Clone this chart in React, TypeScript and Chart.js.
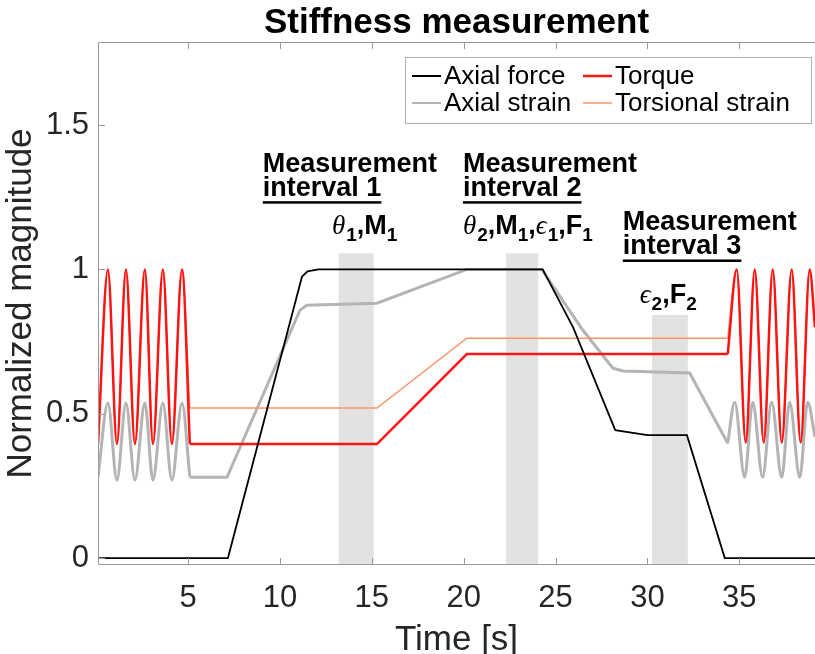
import React, { useEffect, useRef } from 'react';
import { Chart, registerables } from 'chart.js';

Chart.register(...registerables);

// ---------------- data (time in s, normalized magnitude) ----------------
const xTicks = [5, 10, 15, 20, 25, 30, 35];
const yTicks = [0, 0.5, 1, 1.5];

// Axial force (black)
const forceT = [0.1, 7.17, 11.2, 11.5, 12.1, 24.3, 25.95, 28.25, 30.0, 32.15, 34.21, 39.12];
const forceV = [0, 0, 0.975, 0.993, 1.0, 1.0, 0.8, 0.443, 0.426, 0.426, 0, 0];

// Torque (red)
const torqueOscLeftT = [0.1, 0.64, 1.13, 1.62, 2.11, 2.65, 3.09, 3.63, 4.12, 4.67, 5.1];
const torqueOscLeftV = [0.395, 1.0, 0.395, 1.0, 0.395, 1.0, 0.395, 1.0, 0.395, 1.0, 0.395];
const torqueMidT = [5.1, 15.28, 20.17, 34.37];
const torqueMidV = [0.395, 0.395, 0.707, 0.707];
const torqueOscRightT = [34.37, 34.86, 35.35, 35.84, 36.33, 36.82, 37.31, 37.85, 38.34, 38.83, 39.12];
const torqueOscRightV = [0.707, 1.0, 0.4, 1.0, 0.4, 1.0, 0.4, 1.0, 0.4, 1.0, 0.8];

// Torsional strain (orange)
const torsOscLeftT = [0.1, 0.64, 1.13, 1.62, 2.11, 2.65, 3.09, 3.63, 4.12, 4.67, 5.1];
const torsOscLeftV = [0.395, 1.0, 0.395, 1.0, 0.395, 1.0, 0.395, 1.0, 0.395, 1.0, 0.52];
const torsMidT = [5.1, 15.28, 20.17, 34.37];
const torsMidV = [0.52, 0.52, 0.762, 0.762];
const torsOscRightT = [34.37, 34.86, 35.35, 35.84, 36.33, 36.82, 37.31, 37.85, 38.34, 38.83, 39.12];
const torsOscRightV = [0.762, 1.0, 0.4, 1.0, 0.4, 1.0, 0.4, 1.0, 0.4, 1.0, 0.8];

// Axial strain (gray)
const strainOscLeftT = [0.1, 0.64, 1.13, 1.62, 2.11, 2.65, 3.09, 3.63, 4.12, 4.67, 5.1];
const strainOscLeftV = [0.28, 0.537, 0.27, 0.537, 0.27, 0.537, 0.27, 0.537, 0.27, 0.537, 0.28];
const strainMidT = [5.1, 7.12, 11.09, 11.47, 15.28, 20.17, 24.25, 26.48, 28.12, 28.67, 32.3, 34.37];
const strainMidV = [0.28, 0.28, 0.859, 0.876, 0.883, 1.0, 1.0, 0.79, 0.658, 0.648, 0.641, 0.398];
const strainOscRightT = [34.37, 34.75, 35.29, 35.73, 36.27, 36.76, 37.31, 37.74, 38.29, 38.72, 39.12];
const strainOscRightV = [0.398, 0.54, 0.28, 0.54, 0.28, 0.54, 0.28, 0.54, 0.28, 0.54, 0.42];

// Measurement intervals (shaded)
const bandStart = [13.2, 22.3, 30.25];
const bandEnd = [15.1, 24.05, 32.2];
const bandTop = [1.056, 1.056, 0.842];

// Annotations
const annHeadT = [9.07, 19.96, 28.66];
const annHeadV = [1.337, 1.337, 1.135];
const annHead = ['Measurement', 'Measurement', 'Measurement'];
const annSub = ['interval 1', 'interval 2', 'interval 3'];
const symT = [12.83, 19.96, 29.58];
const symV = [1.122, 1.122, 0.883];
const symSets: string[][][] = [
  [['θ', '1'], ['M', '1']],
  [['θ', '2'], ['M', '1'], ['ϵ', '1'], ['F', '1']],
  [['ϵ', '2'], ['F', '2']],
];

const legendLabels = ['Axial force', 'Torque', 'Axial strain', 'Torsional strain'];
const titleText = 'Stiffness measurement';

// ---------------- styles ----------------
const SANS = "'Liberation Sans', Arial, Helvetica, sans-serif";
const SERIF = "'Liberation Serif', 'DejaVu Serif', serif";
const C_FORCE = '#000000';
const C_TORQUE = '#ff1414';
const C_TORS = '#ff9466';
const C_STRAIN = '#b4b4b4';
const AXIS = '#9a9a9a';
const TEXT = '#262626';

const pts = (t: number[], v: number[]) => t.map((x, i) => ({ x, y: v[i] }));

function drawSymbols(ctx: CanvasRenderingContext2D, x: number, y: number, set: string[][]) {
  let cx = x;
  ctx.textAlign = 'left';
  ctx.textBaseline = 'alphabetic';
  set.forEach(([main, sub], i) => {
    const greek = /[θϵ]/.test(main);
    ctx.font = greek ? `italic 27px ${SERIF}` : `bold 27px ${SANS}`;
    ctx.fillText(main, cx, y);
    cx += ctx.measureText(main).width + (greek ? 1 : 0);
    ctx.font = `bold 19px ${SANS}`;
    ctx.fillText(sub, cx, y + 7);
    cx += ctx.measureText(sub).width;
    if (i < set.length - 1) {
      ctx.font = `bold 27px ${SANS}`;
      ctx.fillText(',', cx, y);
      cx += ctx.measureText(',').width;
    }
  });
}

const overlay = {
  id: 'overlay',
  beforeDatasetsDraw(chart: any) {
    const { ctx, chartArea, scales } = chart;
    const xs = scales.x;
    const ys = scales.y;
    ctx.save();
    ctx.beginPath();
    ctx.rect(chartArea.left, chartArea.top, chartArea.width, chartArea.height);
    ctx.clip();
    ctx.fillStyle = 'rgba(190,190,190,0.45)';
    for (let i = 0; i < bandStart.length; i++) {
      const x0 = xs.getPixelForValue(bandStart[i]);
      const x1 = xs.getPixelForValue(bandEnd[i]);
      const yt = ys.getPixelForValue(bandTop[i]);
      ctx.fillRect(x0, yt, x1 - x0, chartArea.bottom - yt);
    }
    ctx.restore();
  },
  afterDatasetsDraw(chart: any) {
    const { ctx, chartArea, scales } = chart;
    const xs = scales.x;
    const ys = scales.y;
    const { left, right, top, bottom } = chartArea;
    ctx.save();

    // axes box (left, bottom, top) with inward ticks
    ctx.strokeStyle = AXIS;
    ctx.lineWidth = 1;
    ctx.beginPath();
    ctx.moveTo(left + 0.5, top + 0.5);
    ctx.lineTo(left + 0.5, bottom - 0.5);
    ctx.lineTo(right, bottom - 0.5);
    ctx.moveTo(left + 0.5, top + 0.5);
    ctx.lineTo(right, top + 0.5);
    xTicks.forEach((t) => {
      const px = Math.round(xs.getPixelForValue(t)) + 0.5;
      ctx.moveTo(px, bottom);
      ctx.lineTo(px, bottom - 7);
      ctx.moveTo(px, top);
      ctx.lineTo(px, top + 7);
    });
    yTicks.forEach((v) => {
      const py = Math.round(ys.getPixelForValue(v)) + 0.5;
      ctx.moveTo(left, py);
      ctx.lineTo(left + 7, py);
    });
    ctx.stroke();

    // title
    ctx.fillStyle = '#000';
    ctx.font = `bold 35px ${SANS}`;
    ctx.textAlign = 'center';
    ctx.textBaseline = 'alphabetic';
    ctx.fillText(titleText, (left + right) / 2, 33);

    // annotations
    for (let i = 0; i < annHead.length; i++) {
      const ax = xs.getPixelForValue(annHeadT[i]);
      const ay = ys.getPixelForValue(annHeadV[i]);
      ctx.fillStyle = '#000';
      ctx.textAlign = 'left';
      ctx.font = `bold 27px ${SANS}`;
      ctx.fillText(annHead[i], ax, ay);
      ctx.fillText(annSub[i], ax, ay + 24);
      const w = ctx.measureText(annSub[i]).width;
      ctx.fillRect(ax, ay + 29, w, 2.5);
      drawSymbols(ctx, xs.getPixelForValue(symT[i]), ys.getPixelForValue(symV[i]), symSets[i]);
    }

    // legend
    const bx0 = right - 410;
    const by0 = top + 15;
    const bw = 406;
    const bh = 66;
    ctx.fillStyle = '#ffffff';
    ctx.fillRect(bx0, by0, bw, bh);
    ctx.strokeStyle = '#b0b0b0';
    ctx.lineWidth = 1;
    ctx.strokeRect(bx0 + 0.5, by0 + 0.5, bw, bh);
    const cols = [bx0 + 7, bx0 + 178];
    const rows = [by0 + 19, by0 + 46];
    const colors = [C_FORCE, C_TORQUE, C_STRAIN, C_TORS];
    const widths = [2, 2.5, 2, 1.5];
    ctx.font = `26px ${SANS}`;
    ctx.textBaseline = 'middle';
    legendLabels.forEach((lab, i) => {
      const cx = cols[i % 2];
      const cy = rows[Math.floor(i / 2)];
      ctx.strokeStyle = colors[i];
      ctx.lineWidth = widths[i];
      ctx.beginPath();
      ctx.moveTo(cx, cy);
      ctx.lineTo(cx + 29, cy);
      ctx.stroke();
      ctx.fillStyle = '#000';
      ctx.fillText(lab, cx + 32, cy + 1);
    });
    ctx.restore();
  },
};

export default function App() {
  const ref = useRef<HTMLCanvasElement>(null);
  useEffect(() => {
    if (!ref.current) return;
    const mono = { cubicInterpolationMode: 'monotone' as const };
    const ds = (label: string, t: number[], v: number[], color: string, width: number, order: number, smooth: boolean) => ({
      label,
      data: pts(t, v),
      borderColor: color,
      backgroundColor: color,
      borderWidth: width,
      pointRadius: 0,
      fill: false,
      order,
      ...(smooth ? mono : { tension: 0 }),
    });
    const chart = new Chart(ref.current, {
      type: 'line',
      data: {
        datasets: [
          ds('Axial force', forceT, forceV, C_FORCE, 1.8, 0, false),
          ds('Torque', torqueOscLeftT, torqueOscLeftV, C_TORQUE, 2.5, 1, true),
          ds('Torque', torqueMidT, torqueMidV, C_TORQUE, 2.5, 1, false),
          ds('Torque', torqueOscRightT, torqueOscRightV, C_TORQUE, 2.5, 1, true),
          ds('Torsional strain', torsOscLeftT, torsOscLeftV, C_TORS, 1.5, 2, true),
          ds('Torsional strain', torsMidT, torsMidV, C_TORS, 1.5, 2, false),
          ds('Torsional strain', torsOscRightT, torsOscRightV, C_TORS, 1.5, 2, true),
          ds('Axial strain', strainOscLeftT, strainOscLeftV, C_STRAIN, 3, 3, true),
          ds('Axial strain', strainMidT, strainMidV, C_STRAIN, 3, 3, false),
          ds('Axial strain', strainOscRightT, strainOscRightV, C_STRAIN, 3, 3, true),
        ] as any,
      },
      options: {
        animation: false,
        responsive: false,
        maintainAspectRatio: false,
        layout: { padding: { top: 42, right: 0, left: 0, bottom: 0 } },
        plugins: {
          legend: { display: false },
          title: { display: false },
          tooltip: { enabled: false },
        },
        elements: { point: { radius: 0 } },
        scales: {
          x: {
            type: 'linear',
            min: 0.1,
            max: 39.12,
            grid: { display: false, drawTicks: false },
            border: { display: false },
            ticks: { font: { family: SANS, size: 31 }, color: TEXT, padding: 15 },
            title: {
              display: true,
              text: 'Time [s]',
              font: { family: SANS, size: 35, lineHeight: 0.8 },
              color: TEXT,
              padding: { top: 0, bottom: 0 },
            },
            afterBuildTicks: (scale: any) => {
              scale.ticks = xTicks.map((value) => ({ value }));
            },
            afterFit: (scale: any) => {
              scale.height = 89;
            },
          },
          y: {
            type: 'linear',
            min: -0.024,
            max: 1.788,
            grid: { display: false, drawTicks: false },
            border: { display: false },
            ticks: {
              font: { family: SANS, size: 31 },
              color: TEXT,
              padding: 9,
              callback: (v: any) => String(v),
            },
            title: {
              display: true,
              text: 'Normalized magnitude',
              font: { family: SANS, size: 35, lineHeight: 1.2 },
              color: TEXT,
              padding: { top: 0, bottom: 0 },
            },
            afterBuildTicks: (scale: any) => {
              scale.ticks = yTicks.map((value) => ({ value }));
            },
            afterFit: (scale: any) => {
              scale.width = 98;
            },
          },
        },
      } as any,
      plugins: [overlay],
    });
    return () => chart.destroy();
  }, []);
  return (
    <div style={{ position: 'absolute', left: 0, top: 0, width: 815, height: 654, background: '#ffffff' }}>
      <canvas ref={ref} width={815} height={654} style={{ display: 'block', width: 815, height: 654 }} />
    </div>
  );
}
